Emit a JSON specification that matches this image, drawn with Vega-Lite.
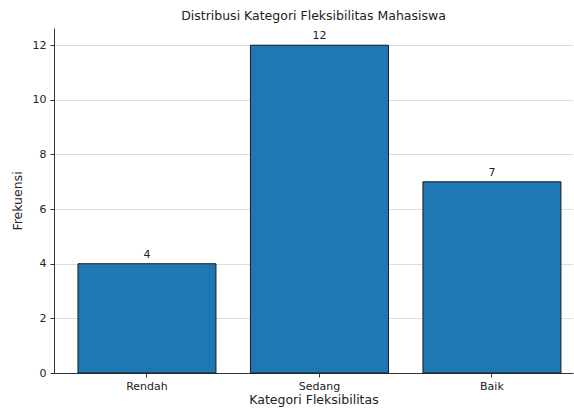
{
  "$schema": "https://vega.github.io/schema/vega-lite/v6.json",
  "width": 519,
  "height": 345,
  "autosize": {"type": "none"},
  "padding": {"left": 54, "top": 28, "right": 1, "bottom": 39},
  "background": "white",
  "title": {
    "text": "Distribusi Kategori Fleksibilitas Mahasiswa",
    "font": "DejaVu Sans",
    "fontSize": 12.5,
    "fontWeight": "normal",
    "color": "#222222",
    "anchor": "middle",
    "offset": 6
  },
  "config": {
    "view": {"stroke": null},
    "axis": {
      "labelFont": "DejaVu Sans",
      "titleFont": "DejaVu Sans",
      "labelFontSize": 11,
      "titleFontSize": 12.5,
      "titleFontWeight": "normal",
      "labelColor": "#222222",
      "titleColor": "#222222",
      "domainColor": "#333333",
      "tickColor": "#333333",
      "tickSize": 4
    }
  },
  "data": {
    "values": [
      {"kategori": "Rendah", "frekuensi": 4},
      {"kategori": "Sedang", "frekuensi": 12},
      {"kategori": "Baik", "frekuensi": 7}
    ]
  },
  "encoding": {
    "x": {
      "field": "kategori",
      "type": "nominal",
      "sort": ["Rendah", "Sedang", "Baik"],
      "scale": {"paddingInner": 0.2, "paddingOuter": 0.1045, "align": 0.665},
      "axis": {"title": "Kategori Fleksibilitas", "labelAngle": 0, "grid": false, "titlePadding": 2, "labelPadding": 3}
    },
    "y": {
      "field": "frekuensi",
      "type": "quantitative",
      "scale": {"domain": [0, 12.63], "nice": false},
      "axis": {"title": "Frekuensi", "values": [0, 2, 4, 6, 8, 10, 12], "grid": true, "gridColor": "#dddddd", "gridWidth": 1, "titlePadding": 8, "labelPadding": 4}
    }
  },
  "layer": [
    {
      "mark": {"type": "bar", "color": "#1f77b4", "stroke": "#1a1a1a", "strokeWidth": 1}
    },
    {
      "mark": {"type": "text", "dy": -9, "font": "DejaVu Sans", "fontSize": 11, "color": "#222222"},
      "encoding": {"text": {"field": "frekuensi", "type": "quantitative"}}
    }
  ]
}
